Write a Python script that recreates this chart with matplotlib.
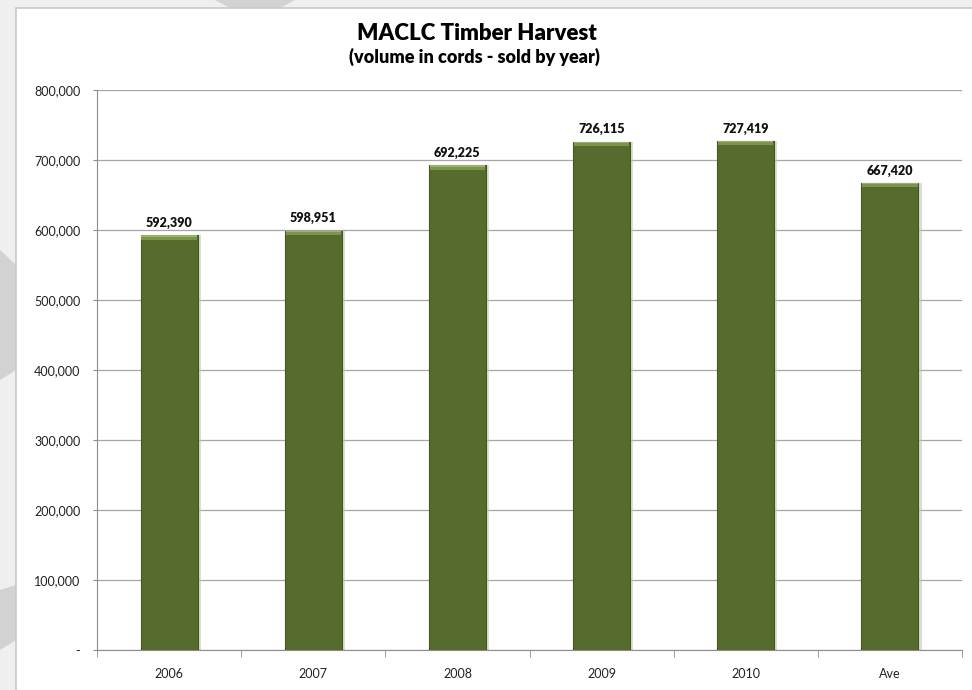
import matplotlib
matplotlib.use("Agg")
import matplotlib.pyplot as plt
from matplotlib.patches import Rectangle, Polygon
from matplotlib.ticker import FuncFormatter, MultipleLocator

categories = ["2006", "2007", "2008", "2009", "2010", "Ave"]
values = [592390, 598951, 692225, 726115, 727419, 667420]
title = "MACLC Timber Harvest"
subtitle = "(volume in cords - sold by year)"

plt.rcParams['font.family'] = ['Lato', 'DejaVu Sans']

W, H = 972, 690
fig = plt.figure(figsize=(W / 100, H / 100), dpi=100)
fig.patch.set_facecolor("#efefef")

def fx(x): return x / W
def fy(y): return 1 - y / H

# decorative background shapes
shapes = [
    [(215, 0), (295, 0), (280, 8), (230, 8)],
    [(0, 300), (16, 290), (16, 370), (0, 380)],
    [(0, 250), (16, 265), (16, 330), (0, 300)],
    [(0, 590), (16, 585), (16, 640), (0, 650)],
]
for s in shapes:
    fig.patches.append(Polygon([(fx(a), fy(b)) for a, b in s], closed=True,
                               transform=fig.transFigure, facecolor="#d2d2d2",
                               edgecolor="none", zorder=0))
# white chart panel
panel = Rectangle((fx(16), -0.01), 1 - fx(16) + 0.01, fy(8) + 0.01, transform=fig.transFigure,
                  facecolor="white", edgecolor="#c8c8c8", linewidth=1.2, zorder=1)
fig.patches.append(panel)

ax = fig.add_axes([fx(97), 1 - 650 / H, fx(962) - fx(97), (650 - 90) / H])
ax.set_zorder(2)
ax.set_facecolor("none")

x = list(range(len(categories)))
bw = 0.395
# shadow
ax.bar([i + 0.022 for i in x], values, width=bw, color="#c4c4c4", alpha=0.6, zorder=2,
       linewidth=0)
ax.bar(x, values, width=bw, color="#566b2e", edgecolor="#46571f", linewidth=0.8, zorder=3)
# top bevel highlight
bev = 6000
ax.bar(x, [bev] * len(values), bottom=[v - bev for v in values], width=bw * 0.97,
       color="#7d9549", linewidth=0, zorder=4)
ax.bar(x, [bev * 0.4] * len(values), bottom=[v - bev * 0.4 for v in values], width=bw * 0.97,
       color="#9cb26a", linewidth=0, zorder=4)

for i, v in enumerate(values):
    ax.text(i, v + 9000, f"{v:,}", ha="center", va="bottom", fontsize=9,
            fontweight="heavy", color="#111111")

ax.set_ylim(0, 800000)
ax.set_xlim(-0.5, len(categories) - 0.5)
ax.yaxis.set_major_locator(MultipleLocator(100000))
ax.yaxis.set_major_formatter(FuncFormatter(lambda v, p: "-" if v == 0 else f"{int(v):,}"))
ax.grid(axis="y", color="#a6a6a6", linewidth=0.9, zorder=0)
ax.set_axisbelow(True)
for s in ["top", "right"]:
    ax.spines[s].set_visible(False)
ax.spines["left"].set_color("#8c8c8c")
ax.spines["bottom"].set_color("#8c8c8c")
ax.tick_params(axis="y", length=3, color="#8c8c8c", labelsize=9, pad=9, labelcolor="#222222")
ax.set_xticks(x)
ax.set_xticklabels(categories)
ax.tick_params(axis="x", length=0, labelsize=9, pad=13, labelcolor="#222222")
ax.set_xticks([i - 0.5 for i in range(len(categories) + 1)], minor=True)
ax.tick_params(axis="x", which="minor", length=5, color="#8c8c8c")

t1 = fig.text(fx(477), fy(34), title, ha="center", va="center", fontsize=14, fontweight="heavy")
t2 = fig.text(fx(474), fy(57), subtitle, ha="center", va="center", fontsize=10, fontweight="heavy")

# fit title widths to the reference widths (pixels)
renderer = fig.canvas.get_renderer()
for t, target in [(t1, 240), (t2, 252)]:
    wpx = t.get_window_extent(renderer).width
    t.set_fontsize(t.get_fontsize() * target / wpx)

fig.savefig("out.png", dpi=100, facecolor=fig.get_facecolor())
